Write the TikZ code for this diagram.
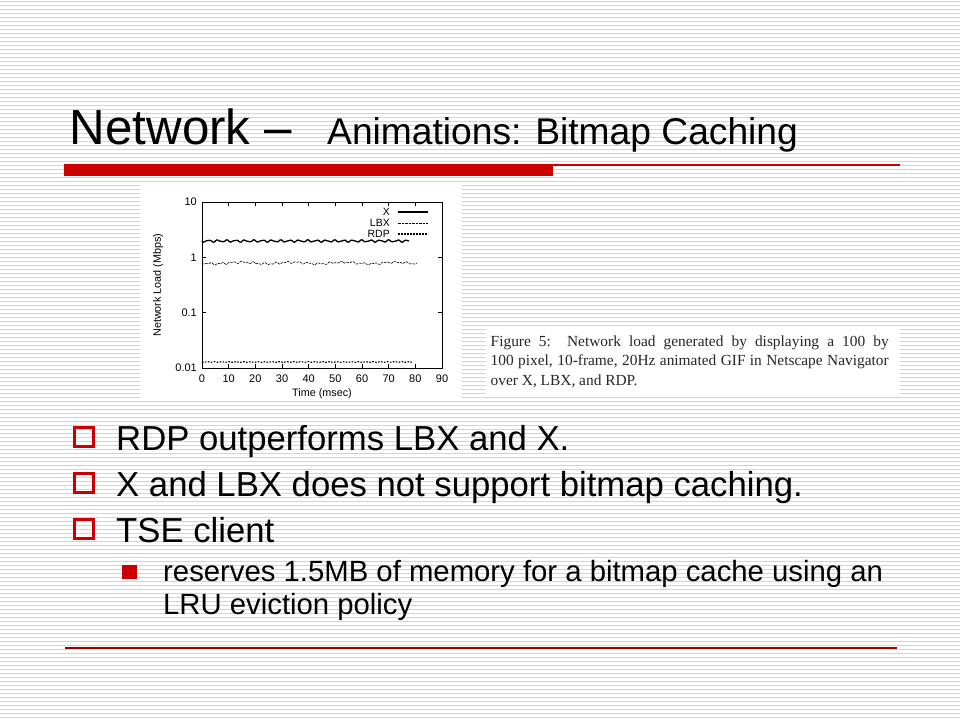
\documentclass[tikz,border=0pt]{standalone}
\usepackage{fontspec}
\setmainfont{Liberation Sans}
\newfontfamily\captionfont{Liberation Serif}
\begin{document}
\begin{tikzpicture}
  [x=1pt,y=-1pt,line cap=butt,
   % Styles
   stripe/.style={stripecolor,line width=1pt},
   title text/.style={anchor=base west,inner sep=0pt,font=\fontsize{49.3pt}{59pt}\selectfont},
   subtitle text/.style={anchor=base west,inner sep=0pt,font=\fontsize{37.2pt}{44pt}\selectfont},
   item text/.style={anchor=base west,inner sep=0pt,font=\fontsize{34.7pt}{41pt}\selectfont},
   sub text/.style={anchor=base west,inner sep=0pt,font=\fontsize{29.3pt}{35pt}\selectfont},
   hollow bullet/.style={draw=slidered,line width=2.7pt,minimum size=19.3pt,inner sep=0pt},
   filled bullet/.style={fill=slidered,minimum size=14.5pt,inner sep=0pt},
   tick label/.style={inner sep=0pt,font=\fontsize{11pt}{13pt}\selectfont},
   axis label/.style={inner sep=0pt,font=\fontsize{10.8pt}{13pt}\selectfont},
   legend label/.style={anchor=east,inner sep=0pt,font=\fontsize{10.5pt}{12pt}\selectfont},
   caption text/.style={anchor=north west,inner sep=0pt,text width=398pt,align=justify,
     text=captioncolor,font=\captionfont\fontsize{15.4pt}{19.5pt}\selectfont},
   x curve/.style={line width=1.3pt},
   lbx curve/.style={line width=0.6pt,dash pattern=on 2.5pt off 1pt},
   rdp curve/.style={line width=1.1pt,dash pattern=on 1.6pt off 1.4pt}]

  % Colors
  \colorlet{slidered}{red!80!black}
  \colorlet{rulecolor}{red!58!black}
  \colorlet{stripecolor}{black!17}
  \colorlet{captioncolor}{black!85}

  % Background
  \fill[white] (0,0) rectangle (960,720);
  \useasboundingbox (0,0) rectangle (960,720);
  \foreach \k in {0,...,179}
    \draw[stripe] (0,{4*\k+1}) -- (960,{4*\k+1});

  % Title and rules
  \node[title text] (title) at (69.5,144) {Network –};
  \node[subtitle text] (subtitle) at (327,144) {Animations: Bitmap Caching};
  \fill[slidered] (64,164) rectangle (553,176);
  \draw[slidered,line width=1.4pt] (553,165) -- (900,165);
  \draw[rulecolor,line width=2pt] (65,648) -- (897,648);

  % The graphic
  \fill[white] (140,185) rectangle (462,400);
  \draw[line width=0.8pt] (202,202) rectangle (442,368);

  \foreach \t in {0,10,...,90}
  {
    \draw[line width=0.6pt] ({202+2.6667*\t},368) -- ++(0,-4);
    \draw[line width=0.6pt] ({202+2.6667*\t},202) -- ++(0,4);
    \node[tick label] at ({202+2.6667*\t},378.5) {\t};
  }
  \foreach \v/\vy in {0.01/368,0.1/312.7,1/257.3,10/202}
  {
    \draw[line width=0.6pt] (202,\vy) -- ++(4,0);
    \draw[line width=0.6pt] (442,\vy) -- ++(-4,0);
    \node[tick label,anchor=east] at (197,\vy) {\v};
  }
  \node[axis label] (xlabel) at (322,394) {Time (msec)};
  \node[axis label,rotate=90] (ylabel) at (158,285) {Network Load (Mbps)};

  \draw[x curve] plot[domain=0:207,samples=160]
    ({202+\x},{241+0.9*sin(40*\x)+0.4*sin(67*\x+20)});
  \draw[lbx curve] plot[domain=0:215,samples=170]
    ({202+\x},{263+0.7*sin(33*\x)+0.6*sin(61*\x+50)+0.8*sin(7*\x)});
  \draw[rdp curve] plot[domain=0:211,samples=100]
    ({202+\x},{362+0.4*sin(50*\x)});

  % Legend
  \node[legend label] (xkey) at (390,212) {X};
  \node[legend label] (lbxkey) at (390,223) {LBX};
  \node[legend label] (rdpkey) at (390,234) {RDP};
  \draw[x curve,line width=1.6pt] (xkey.east) ++(8,0) -- ++(30,0);
  \draw[lbx curve] (lbxkey.east) ++(8,0) -- ++(30,0);
  \draw[rdp curve] (rdpkey.east) ++(8,0) -- ++(30,0);

  % Caption
  \fill[white] (486,328) rectangle (900,394);
  \node[caption text] (caption) at (490.5,335.5)
    {Figure 5:\ \ Network load generated by displaying a 100 by\linebreak
     100 pixel, 10-frame, 20Hz animated GIF in Netscape Navigator\linebreak
     over X, LBX, and RDP.};

  % Bullets
  \foreach \y/\name/\txt in {450/item1/RDP outperforms LBX and X.,
                             496/item2/X and LBX does not support bitmap caching.,
                             542/item3/TSE client}
  {
    \node[hollow bullet] (\name box) at (84,{\y-13}) {};
    \node[item text] (\name) at (116,\y) {\txt};
  }
  \node[filled bullet] (subbox) at (129.5,572) {};
  \node[sub text] (sub1) at (163,581) {reserves 1.5MB of memory for a bitmap cache using an};
  \node[sub text] (sub2) at (163,614) {LRU eviction policy};
\end{tikzpicture}
\end{document}
